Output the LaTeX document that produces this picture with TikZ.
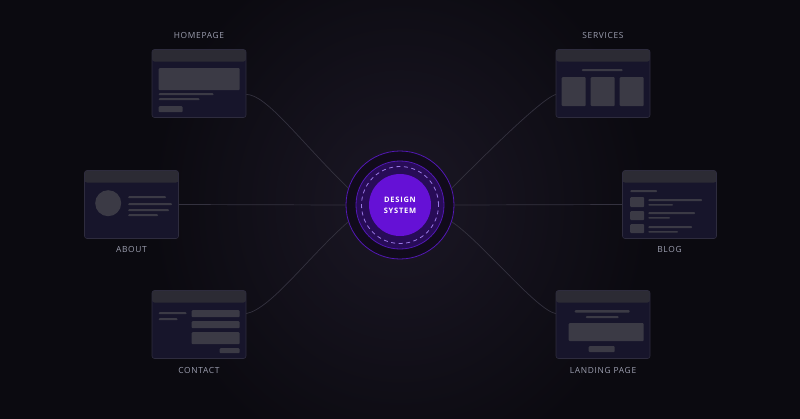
\documentclass[tikz,border=0pt]{standalone}
\usepackage{fontspec}
\setmainfont{Open Sans}
\newfontfamily\tagfont[LetterSpace=8]{Open Sans}
\newfontfamily\hubfont[LetterSpace=10]{Open Sans}
\usetikzlibrary{positioning}

\definecolor{bg}{HTML}{0B0A10}
\definecolor{glow}{HTML}{1B1725}
\definecolor{cardbody}{HTML}{17152B}
\definecolor{cardline}{HTML}{2E2C3E}
\definecolor{cardtop}{HTML}{2C2B34}
\definecolor{cardblk}{HTML}{3B3A45}
\definecolor{linkc}{HTML}{34323F}
\definecolor{tagtext}{HTML}{9B9DAE}
\definecolor{hubbg}{HTML}{110B1B}
\definecolor{hubring}{HTML}{5218B4}
\definecolor{hubdark}{HTML}{280C58}
\definecolor{hubdash}{HTML}{9A78E6}
\definecolor{hubfill}{HTML}{6511D6}

\tikzset{
    card/.style={rectangle, rounded corners=2.5pt, minimum width=94pt, minimum height=68pt,
        inner sep=0pt, fill=cardbody, draw=cardline, line width=0.6pt,
        path picture={\fill[cardtop] (path picture bounding box.north west) rectangle ([yshift=-12pt]path picture bounding box.north east);}},
    blk/.style={fill=cardblk, rounded corners=1pt},
    tag/.style={text=tagtext, font=\tagfont\fontsize{8.4}{10}\selectfont, inner sep=0pt},
    link/.style={draw=linkc, line width=0.7pt},
    hub/.style={circle, minimum size=108pt, inner sep=0pt, fill=hubbg, draw=hubring, line width=0.8pt,
        text=white, align=center, font=\hubfont\bfseries\fontsize{7.5}{11}\selectfont,
        path picture={
            \fill[hubdark] (path picture bounding box.center) circle (44pt);
            \draw[hubring, line width=0.8pt] (path picture bounding box.center) circle (44pt);
            \draw[hubdash, line width=0.8pt, dash pattern=on 4pt off 3.5pt] (path picture bounding box.center) circle (38.5pt);
            \fill[hubfill] (path picture bounding box.center) circle (31pt);
        }},
}

\begin{document}
\begin{tikzpicture}[x=1pt,y=-1pt]
    \useasboundingbox (0,0) rectangle (800,418);
    \begin{scope}
        \clip (-5,-5) rectangle (805,423);
        \fill[bg] (-5,-5) rectangle (805,423);
        \shade[inner color=glow, outer color=bg] (400,205) ellipse (250pt and 270pt);
    \end{scope}

    % page cards
    \node[card] (home) at (199,83.5) {};
    \node[card] (serv) at (603,83.5) {};
    \node[card] (about) at (131.5,204.5) {};
    \node[card] (blog) at (669.5,204.5) {};
    \node[card] (contact) at (199,324.5) {};
    \node[card] (landing) at (603,324.5) {};

    \node[tag] (hometag) at (199,35) {HOMEPAGE};
    \node[tag] (servtag) at (603,35) {SERVICES};
    \node[tag] (abouttag) at (131.5,249) {ABOUT};
    \node[tag] (blogtag) at (669.5,249) {BLOG};
    \node[tag] (contacttag) at (199,370) {CONTACT};
    \node[tag] (landingtag) at (603,370) {LANDING PAGE};

    \begin{scope}[shift={(home.north west)}]
        \fill[blk] (7,19) rectangle (88,41);
        \fill[blk] (7,44) rectangle (62,46);
        \fill[blk] (7,49) rectangle (48,51);
        \fill[blk] (7,57) rectangle (31,63);
    \end{scope}
    \begin{scope}[shift={(serv.north west)}]
        \fill[blk] (26,20) rectangle (67,22);
        \fill[blk] (6,28) rectangle (30,57);
        \fill[blk] (35,28) rectangle (59,57);
        \fill[blk] (64,28) rectangle (88,57);
    \end{scope}
    \begin{scope}[shift={(about.north west)}]
        \fill[blk] (24,33) circle (13pt);
        \fill[blk] (44,26) rectangle (82,28);
        \fill[blk] (44,33) rectangle (88,35);
        \fill[blk] (44,39) rectangle (85,41);
        \fill[blk] (44,44) rectangle (74,46);
    \end{scope}
    \begin{scope}[shift={(blog.north west)}]
        \fill[blk] (8,20) rectangle (35,22);
        \fill[blk] (8,27) rectangle (22,37);
        \fill[blk] (26,29) rectangle (80,31);
        \fill[blk] (26,34) rectangle (51,35.5);
        \fill[blk] (8,41) rectangle (22,50);
        \fill[blk] (26,42) rectangle (73,44);
        \fill[blk] (26,47) rectangle (48,48.5);
        \fill[blk] (8,54) rectangle (22,63);
        \fill[blk] (26,56) rectangle (70,58);
        \fill[blk] (26,61) rectangle (56,62.5);
    \end{scope}
    \begin{scope}[shift={(contact.north west)}]
        \fill[blk] (7,22) rectangle (35,24);
        \fill[blk] (7,28) rectangle (26,30);
        \fill[blk] (40,20) rectangle (88,27);
        \fill[blk] (40,31) rectangle (88,38);
        \fill[blk] (40,42) rectangle (88,54);
        \fill[blk] (68,58) rectangle (88,63);
    \end{scope}
    \begin{scope}[shift={(landing.north west)}]
        \fill[blk] (19,20) rectangle (74,22.5);
        \fill[blk] (30,26) rectangle (63,28);
        \fill[blk] (13,33) rectangle (88,51);
        \fill[blk] (33,56) rectangle (59,62);
    \end{scope}

    % hub
    \node[hub] (ds) at (400,205) {DESIGN\\SYSTEM};

    % links
    \draw[link] (home.-13) .. controls +(20,0) and +(-49,-48) .. (ds.162);
    \draw[link] (contact.13) .. controls +(25,-5) and +(-40,35) .. (ds.198);
    \draw[link] (serv.193) .. controls +(-15,5) and +(35,-35) .. (ds.18);
    \draw[link] (landing.167) .. controls +(-20,-4) and +(30,20) .. (ds.-18);
    \draw[link] (about.east) -- (ds.west);
    \draw[link] (ds.east) -- (blog.west);
\end{tikzpicture}
\end{document}
